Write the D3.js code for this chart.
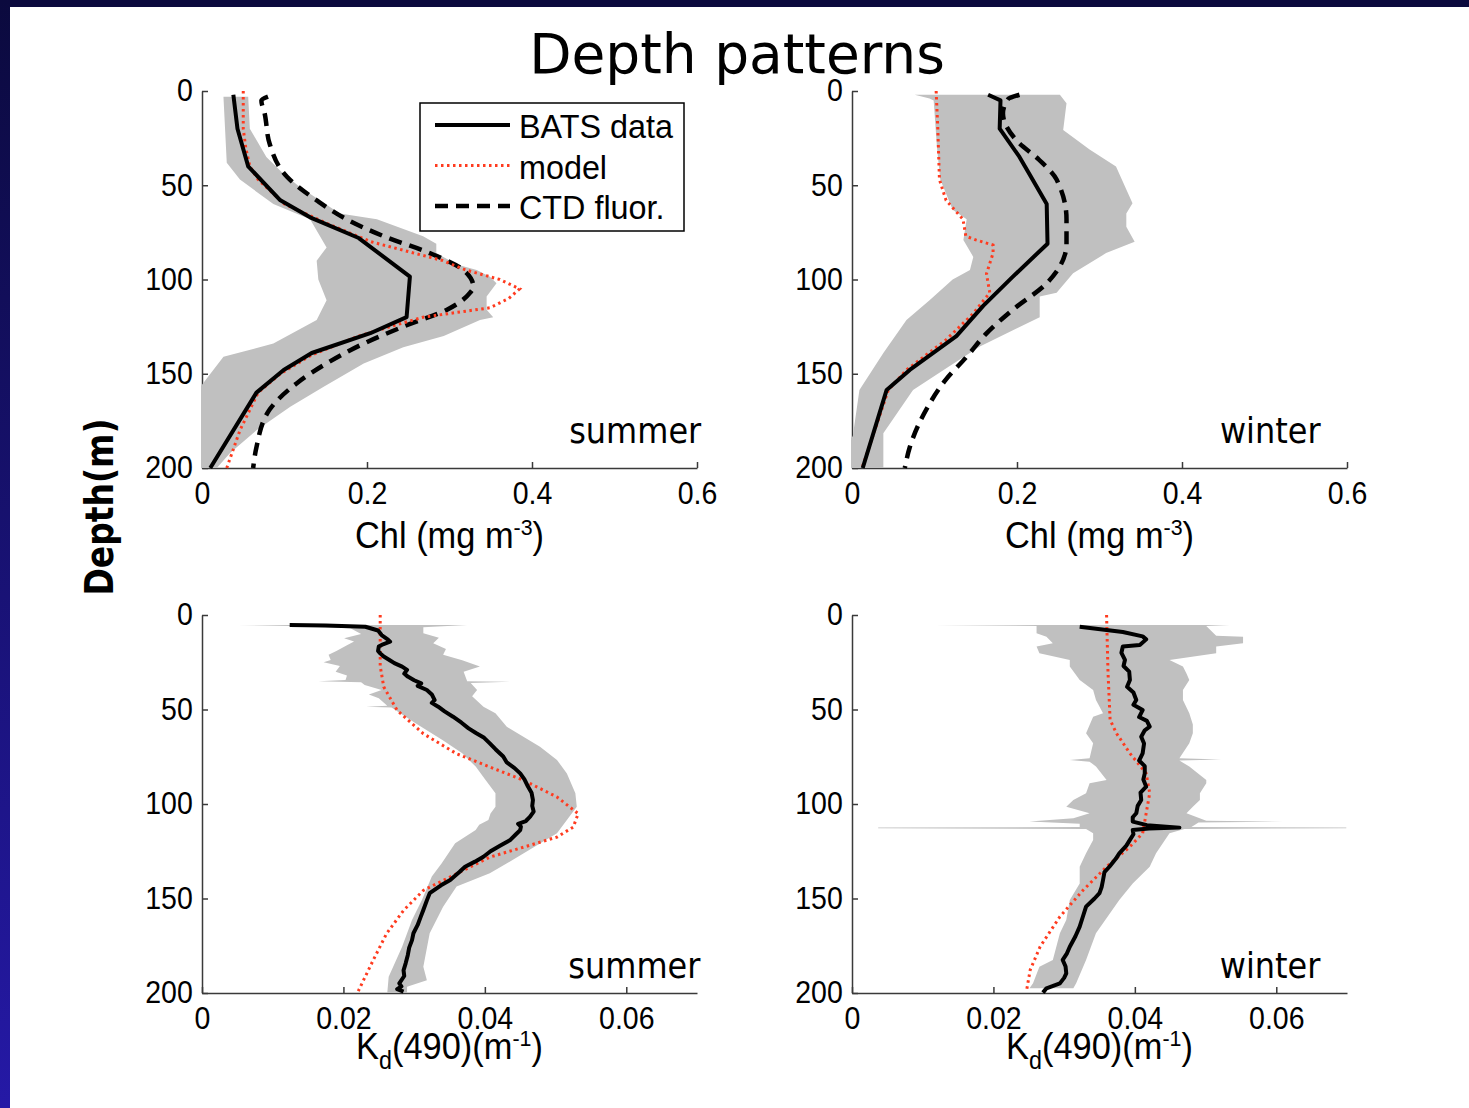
<!DOCTYPE html>
<html>
<head>
<meta charset="utf-8">
<script src="https://cdn.jsdelivr.net/npm/d3@7"></script>
<style>
  body { margin: 0; background: #fff; }
  svg { display: block; }
</style>
</head>
<body>
<script>
// ---- data: [depth (m), value] ----
const depthTicks = [0, 50, 100, 150, 200];
const chlTicks = [0, 0.2, 0.4, 0.6];
const kdTicks = [0, 0.02, 0.04, 0.06];
const legendLabels = ['BATS data', 'model', 'CTD fluor.'];
const seasons = ['summer', 'winter'];

const summerChlBats = [[2, 0.038], [20, 0.043], [40, 0.056], [58, 0.095], [67, 0.131], [78, 0.19], [98.5, 0.252],
  [120, 0.248], [128.5, 0.204], [139, 0.133], [148, 0.099], [160, 0.066], [200, 0.01]];
const summerChlModel = [[0, 0.05], [20, 0.05], [30, 0.053], [40, 0.058], [47, 0.068], [60, 0.1], [70, 0.15], [80, 0.205],
  [90, 0.292], [95, 0.32], [100, 0.361], [105, 0.385], [110, 0.372], [115, 0.349], [120, 0.268], [125, 0.228],
  [130, 0.19], [140, 0.133], [150, 0.095], [160, 0.068], [180, 0.046], [200, 0.03]];
const summerChlCtd = [[3, 0.08], [5, 0.072], [12, 0.076], [28, 0.082], [45.5, 0.103], [58, 0.139], [68, 0.175],
  [77, 0.22], [86, 0.276], [95, 0.317], [104, 0.329], [107, 0.325], [116, 0.297], [125, 0.244], [134, 0.196],
  [144.5, 0.151], [155, 0.115], [169, 0.082], [189, 0.066], [200, 0.062]];
const summerChlLo = [[3, 0.026], [38, 0.03], [47, 0.046], [60, 0.0865], [68, 0.131], [83, 0.151], [90, 0.139],
  [100, 0.141], [111, 0.151], [121.5, 0.139], [134, 0.0865], [141, 0.026], [157, -0.002], [170, -0.02], [200, -0.03]];
const summerChlHi = [[3, 0.056], [20, 0.058], [35, 0.078], [44, 0.099], [51, 0.119], [65, 0.167], [68, 0.212],
  [77, 0.268], [81, 0.284], [86, 0.284], [92, 0.309], [95, 0.333], [98.5, 0.349], [102, 0.357], [109, 0.345],
  [116, 0.345], [120, 0.353], [121.5, 0.337], [130, 0.293], [136, 0.244], [144.5, 0.196], [157, 0.147],
  [167.5, 0.107], [180, 0.066], [192, 0.034], [200, 0.018]];

const winterChlBats = [[2, 0.165], [5, 0.18], [20, 0.179], [35, 0.203], [44, 0.215], [60, 0.236], [81, 0.237],
  [98.5, 0.195], [114, 0.159], [130, 0.1265], [148, 0.07], [158.6, 0.042], [200, 0.013]];
const winterChlModel = [[0, 0.102], [20, 0.104], [47, 0.106], [58, 0.114], [68, 0.1345], [77, 0.138], [79, 0.15],
  [81.7, 0.171], [86, 0.171], [97, 0.163], [107, 0.167], [118, 0.147], [132, 0.114], [148, 0.066], [158.6, 0.044],
  [199, 0.013]];
const winterChlCtd = [[2, 0.203], [4.4, 0.189], [12, 0.183], [26, 0.199], [36.6, 0.227], [47, 0.248], [68, 0.26],
  [81, 0.26], [93, 0.252], [102, 0.236], [116, 0.195], [128.6, 0.163], [141, 0.139], [153, 0.114], [169, 0.09],
  [189, 0.07], [200, 0.064]];
const winterChlLo = [[2, 0.076], [4, 0.094], [5, 0.099], [30, 0.103], [47, 0.107], [63, 0.122], [68, 0.139],
  [79, 0.135], [88, 0.147], [95, 0.143], [100, 0.122], [111, 0.094], [121.5, 0.066], [139, 0.038], [158.6, 0.009],
  [183, 0.001], [190, -0.01], [200, -0.01]];
const winterChlHi = [[2, 0.252], [6.5, 0.26], [20.7, 0.256], [31, 0.288], [40, 0.32], [59.6, 0.34], [65, 0.3325],
  [72, 0.3325], [80, 0.3426], [86, 0.308], [96.7, 0.268], [107, 0.248], [109, 0.2275], [120, 0.2275],
  [135.6, 0.155], [146, 0.118], [158.6, 0.074], [181.6, 0.038], [200, 0.038]];

const summerKdBats = [[5.3, 0.0124], [5.6, 0.0175], [6.2, 0.0231], [8.2, 0.0249], [10.6, 0.0254], [13, 0.0263],
  [14.1, 0.0266], [15.5, 0.0256], [16.7, 0.025], [19, 0.0249], [20.3, 0.0252], [22, 0.0257], [23.8, 0.0265],
  [25.5, 0.0272], [27.3, 0.0283], [29, 0.029], [31, 0.0286], [32.6, 0.0291], [34.5, 0.03], [36.2, 0.031],
  [37.5, 0.0305], [39.7, 0.0318], [42, 0.0325], [45, 0.0329], [46.5, 0.0325], [48.5, 0.0334], [51, 0.0343],
  [53.8, 0.0355], [57, 0.0367], [60, 0.0377], [62.6, 0.0388], [65, 0.0399], [67.9, 0.0407], [71, 0.0415],
  [74.9, 0.0426], [78, 0.0431], [81, 0.0442], [83.8, 0.045], [87, 0.0456], [90.8, 0.0461], [94, 0.0466],
  [97.9, 0.0468], [101, 0.0467], [104, 0.0469], [106.7, 0.0464], [109, 0.0458], [110.5, 0.0447], [112, 0.0451],
  [113.8, 0.045], [116, 0.0444], [119, 0.0436], [122, 0.0422], [125, 0.0408], [127.9, 0.0398], [130.5, 0.0386],
  [133.2, 0.0372], [136, 0.0364], [140.2, 0.0351], [143, 0.0338], [147.2, 0.0322], [151, 0.0318], [156.1, 0.0313],
  [160, 0.0309], [164, 0.0305], [168.4, 0.0299], [172, 0.0297], [176, 0.0293], [180, 0.0291], [184.3, 0.0288],
  [188, 0.0285], [191, 0.0286], [194.9, 0.0279], [196.5, 0.0282], [198, 0.0276], [199.3, 0.0285]];
const summerKdModel = [[0, 0.0252], [27, 0.0252], [38, 0.0257], [50.5, 0.0276], [62.8, 0.0313], [73.4, 0.036],
  [80.4, 0.0407], [87.5, 0.0455], [96.3, 0.0502], [105.1, 0.0532], [112.2, 0.0525], [117.5, 0.0502],
  [122.8, 0.0455], [128.1, 0.0407], [136.9, 0.036], [145.7, 0.0313], [156.3, 0.0285], [168.6, 0.0261],
  [182.7, 0.0242], [199, 0.0221]];
const summerKdLo = [[5.3, 0.0051], [5.8, 0.0124], [7, 0.021], [10, 0.0225], [12.3, 0.0201], [14, 0.0215],
  [16, 0.0205], [19, 0.019], [21, 0.0179], [23.8, 0.0182], [25, 0.0172], [27, 0.0195], [30, 0.0189],
  [32, 0.0205], [34.4, 0.0203], [35, 0.0165], [35.6, 0.0225], [37, 0.023], [39.7, 0.0254], [42, 0.0236],
  [44, 0.025], [48, 0.0262], [48.5, 0.0232], [49, 0.0268], [57.3, 0.0302], [66.1, 0.034], [73.2, 0.0368],
  [80.2, 0.0387], [87.3, 0.0401], [94.3, 0.0415], [101.4, 0.0415], [105, 0.0408], [108.5, 0.0405],
  [111, 0.0392], [113.8, 0.0387], [120.8, 0.0358], [131.4, 0.0339], [138.4, 0.0325], [150.8, 0.0311],
  [161.4, 0.0297], [175.5, 0.0283], [191.4, 0.0264], [200, 0.0262]];
const summerKdHi = [[5.3, 0.0375], [6.5, 0.0313], [9.7, 0.0313], [12, 0.0335], [15, 0.0327], [18, 0.0345],
  [21, 0.0341], [24, 0.0368], [27.3, 0.0393], [30, 0.037], [35, 0.0375], [35.3, 0.0436], [36, 0.038],
  [39.7, 0.0389], [43, 0.0382], [48.5, 0.0398], [52, 0.0415], [59.1, 0.0431], [69.7, 0.0478], [76.7, 0.0502],
  [83.8, 0.0516], [94.3, 0.0528], [101.4, 0.053], [108.5, 0.0516], [115.5, 0.0502], [126.1, 0.0455],
  [136.7, 0.0407], [143.7, 0.036], [154.3, 0.0341], [168.4, 0.0322], [186.1, 0.0313], [193.2, 0.0318],
  [196.7, 0.029], [200, 0.029]];

const winterKdBats = [[6.2, 0.0322], [9, 0.0383], [11.3, 0.0411], [12.9, 0.0416], [15.9, 0.0407], [16.7, 0.0383],
  [20, 0.0381], [23.8, 0.0386], [27, 0.0384], [30, 0.0392], [34.4, 0.0393], [38, 0.0389], [41, 0.0398],
  [45, 0.0402], [47.5, 0.0398], [50.3, 0.0411], [54, 0.0406], [56, 0.0417], [59.1, 0.0421], [61, 0.0414],
  [64.4, 0.0409], [68, 0.0413], [73.2, 0.0411], [77, 0.0406], [80, 0.0414], [83.8, 0.0414], [87, 0.0412],
  [90.8, 0.0416], [94, 0.0408], [97.9, 0.0409], [101, 0.0404], [104.9, 0.0402], [107, 0.0397], [109.3, 0.0397],
  [111.2, 0.0417], [112.5, 0.0463], [113, 0.042], [113.7, 0.0397], [116, 0.0398], [119, 0.0393], [122, 0.0388],
  [126.1, 0.0378], [129, 0.0373], [133.2, 0.0364], [136, 0.0357], [140.2, 0.0355], [144, 0.0353], [147.2, 0.035],
  [150, 0.0343], [154.3, 0.0331], [159, 0.0327], [164.9, 0.0322], [170, 0.0316], [175.5, 0.0308], [179, 0.0304],
  [182.5, 0.0298], [186, 0.0302], [189.6, 0.0303], [192, 0.03], [194.9, 0.0294], [197.5, 0.0275], [199.8, 0.027]];
const winterKdModel = [[0, 0.036], [30, 0.0362], [55.5, 0.0365], [62.6, 0.0374], [73.2, 0.0393], [83.8, 0.0416],
  [94.3, 0.0421], [104.9, 0.0416], [115.5, 0.0411], [122.6, 0.0393], [133.2, 0.036], [145.5, 0.0327],
  [159.6, 0.0294], [175.5, 0.0266], [187.8, 0.0252], [198.4, 0.0247]];
const winterKdLo = [[5.3, 0.0117], [5.8, 0.0261], [9.7, 0.0261], [11.5, 0.0275], [15, 0.0284], [16.7, 0.0261],
  [20.3, 0.0265], [23.8, 0.0308], [27.3, 0.0308], [34.4, 0.0322], [39.7, 0.0341], [45, 0.0345], [52, 0.0355],
  [53.8, 0.0341], [62.6, 0.0331], [67.9, 0.0341], [75.8, 0.0336], [76.7, 0.0308], [77.6, 0.0336], [80.2, 0.0345],
  [87.3, 0.036], [89, 0.0336], [94.3, 0.0331], [97.9, 0.0313], [101.4, 0.0303], [104.9, 0.0336], [107.6, 0.0313],
  [109.3, 0.0251], [110.5, 0.0322], [112.2, 0.0322], [112.4, 0.0037], [112.8, 0.0037], [113.2, 0.0331],
  [115.5, 0.0341], [119, 0.0341], [126.1, 0.0331], [133.2, 0.0322], [142, 0.0322], [150.8, 0.0308],
  [161.4, 0.0303], [168.4, 0.0294], [182.5, 0.0284], [186.1, 0.0265], [194.9, 0.0256], [197.5, 0.0251]];
const winterKdHi = [[5.3, 0.0534], [5.8, 0.0501], [11, 0.0515], [11.5, 0.0553], [15, 0.0553], [16.7, 0.0515],
  [20.3, 0.0515], [23.8, 0.0449], [27.3, 0.0468], [31, 0.0473], [34.4, 0.0477], [39.7, 0.0468], [45, 0.0468],
  [52, 0.0477], [58, 0.0482], [62.6, 0.0482], [67.9, 0.0477], [75.8, 0.0463], [76.5, 0.0522], [77, 0.0463],
  [80.2, 0.0477], [87.3, 0.0501], [89, 0.0501], [94.3, 0.0492], [97.9, 0.0492], [101.4, 0.0482], [104.9, 0.0473],
  [108.8, 0.0501], [109.3, 0.061], [109.8, 0.049], [112.2, 0.048], [112.4, 0.0699], [112.8, 0.0699],
  [113.2, 0.047], [115.5, 0.0449], [126.1, 0.043], [133.2, 0.0421], [142, 0.0397], [150.8, 0.0378],
  [168.4, 0.0345], [182.5, 0.0331], [194.9, 0.0317], [197.5, 0.0313]];

// ---- page ----
const width = 1469;
const height = 1108;
const helv = '"Liberation Sans", Arial, Helvetica, sans-serif';
const tahoma = '"DejaVu Sans", Verdana, sans-serif';
const red = '#ff3b1f';

const svg = d3.select('body').append('svg')
  .attr('width', width)
  .attr('height', height);

const grad = svg.append('defs').append('linearGradient')
  .attr('id', 'edge').attr('x1', 0).attr('y1', 0).attr('x2', 0).attr('y2', 1);
grad.append('stop').attr('offset', 0).attr('stop-color', '#0b0a3e');
grad.append('stop').attr('offset', 1).attr('stop-color', '#2519a6');

svg.append('rect').attr('width', width).attr('height', height).attr('fill', '#fff');
svg.append('rect').attr('width', width).attr('height', 7).attr('fill', '#0b0a3e');
svg.append('rect').attr('width', 10).attr('height', height).attr('fill', 'url(#edge)');

svg.append('text')
  .attr('x', 737).attr('y', 73)
  .attr('text-anchor', 'middle')
  .attr('font-family', tahoma)
  .attr('font-size', 55)
  .text('Depth patterns');

svg.append('text')
  .attr('transform', 'translate(113,507) rotate(-90) scale(1,1.2)')
  .attr('text-anchor', 'middle')
  .attr('font-family', tahoma)
  .attr('font-weight', 'bold')
  .attr('font-size', 33)
  .text('Depth(m)');

const line = (x, y) => d3.line().x(p => x(p[1])).y(p => y(p[0]));

function panel(cfg, i) {
  const x = d3.scaleLinear().domain([0, cfg.xMax]).range([cfg.left, cfg.left + 495]);
  const y = d3.scaleLinear().domain([0, 200]).range([cfg.top, cfg.bottom]);
  const g = svg.append('g');

  const xAxis = g.append('g')
    .attr('transform', `translate(0,${y(200)})`)
    .call(d3.axisBottom(x).tickValues(cfg.xTicks).tickFormat(d => String(d))
      .tickSize(-6).tickSizeOuter(0).tickPadding(14));
  const yAxis = g.append('g')
    .attr('transform', `translate(${x(0)},0)`)
    .call(d3.axisLeft(y).tickValues(depthTicks).tickSize(-6).tickSizeOuter(0).tickPadding(10));

  [xAxis, yAxis].forEach((a) => {
    a.attr('font-family', helv).attr('font-size', 31);
    a.selectAll('path, line').attr('stroke', '#3a3a3a').attr('stroke-width', 1.5);
    a.selectAll('text').attr('fill', '#000').attr('transform', 'scale(0.92,1)');
  });

  // grey band (mean +- sd), clipped to the axes box
  const clipId = `clip${i}`;
  g.append('clipPath').attr('id', clipId)
    .append('rect')
    .attr('x', x(0) - 1).attr('y', y(0))
    .attr('width', x(cfg.xMax) - x(0) + 2).attr('height', y(200) - y(0));
  g.append('path')
    .attr('clip-path', `url(#${clipId})`)
    .attr('fill', '#c0c0c0')
    .attr('d', line(x, y)(cfg.hi.concat(cfg.lo.slice().reverse())) + 'Z');

  if (cfg.ctd) {
    g.append('path')
      .attr('fill', 'none').attr('stroke', '#000').attr('stroke-width', 4.5)
      .attr('stroke-dasharray', '13,8')
      .attr('d', line(x, y).curve(d3.curveMonotoneY)(cfg.ctd));
  }
  g.append('path')
    .attr('fill', 'none').attr('stroke', red).attr('stroke-width', 3)
    .attr('stroke-dasharray', '2.5,3.5')
    .attr('d', line(x, y)(cfg.model));
  g.append('path')
    .attr('fill', 'none').attr('stroke', '#000').attr('stroke-width', 4)
    .attr('stroke-linejoin', 'round')
    .attr('d', line(x, y)(cfg.bats));

  g.append('text')
    .attr('transform', `translate(${x(cfg.labelX)},${y(cfg.labelD)}) scale(1,1.12)`)
    .attr('font-family', tahoma).attr('font-size', 32)
    .text(cfg.season);

  const title = g.append('text')
    .attr('transform', `translate(${(x(0) + x(cfg.xMax)) / 2},${cfg.titleY}) scale(0.93,1)`)
    .attr('text-anchor', 'middle')
    .attr('font-family', helv).attr('font-size', 37);
  cfg.title(title);
}

const chlTitle = (t) => {
  t.append('tspan').text('Chl (mg m');
  t.append('tspan').attr('dy', -13).attr('font-size', 23).text('-3');
  t.append('tspan').attr('dy', 13).text(')');
};
const kdTitle = (t) => {
  t.append('tspan').text('K');
  t.append('tspan').attr('dy', 10).attr('font-size', 25).text('d');
  t.append('tspan').attr('dy', -10).text('(490)(m');
  t.append('tspan').attr('dy', -13).attr('font-size', 23).text('-1');
  t.append('tspan').attr('dy', 13).text(')');
};

const panels = [
  { left: 202, top: 91, bottom: 468, xMax: 0.6, xTicks: chlTicks, season: seasons[0], labelX: 0.445, labelD: 187,
    titleY: 548, title: chlTitle, bats: summerChlBats, model: summerChlModel, ctd: summerChlCtd,
    lo: summerChlLo, hi: summerChlHi },
  { left: 852, top: 91, bottom: 468, xMax: 0.6, xTicks: chlTicks, season: seasons[1], labelX: 0.446, labelD: 187,
    titleY: 548, title: chlTitle, bats: winterChlBats, model: winterChlModel, ctd: winterChlCtd,
    lo: winterChlLo, hi: winterChlHi },
  { left: 202, top: 615, bottom: 993, xMax: 0.07, xTicks: kdTicks, season: seasons[0], labelX: 0.0518, labelD: 192,
    titleY: 1059, title: kdTitle, bats: summerKdBats, model: summerKdModel, lo: summerKdLo, hi: summerKdHi },
  { left: 852, top: 615, bottom: 993, xMax: 0.07, xTicks: kdTicks, season: seasons[1], labelX: 0.052, labelD: 192,
    titleY: 1059, title: kdTitle, bats: winterKdBats, model: winterKdModel, lo: winterKdLo, hi: winterKdHi },
];
panels.forEach(panel);

// legend (top-left panel)
const legend = svg.append('g').attr('transform', 'translate(420,103)');
legend.append('rect')
  .attr('width', 264).attr('height', 128)
  .attr('fill', '#fff').attr('stroke', '#000').attr('stroke-width', 1.5);
const legendStyles = [
  { stroke: '#000', width: 4, dash: null },
  { stroke: red, width: 3, dash: '2.5,3.5' },
  { stroke: '#000', width: 4.5, dash: '13,8' },
];
legendLabels.forEach((label, i) => {
  const row = legend.append('g').attr('transform', `translate(0,${22 + i * 40.5})`);
  row.append('line')
    .attr('x1', 15).attr('x2', 90)
    .attr('stroke', legendStyles[i].stroke)
    .attr('stroke-width', legendStyles[i].width)
    .attr('stroke-dasharray', legendStyles[i].dash);
  row.append('text')
    .attr('transform', 'translate(99,13) scale(0.98,1)')
    .attr('font-family', helv).attr('font-size', 33)
    .text(label);
});
</script>
</body>
</html>
